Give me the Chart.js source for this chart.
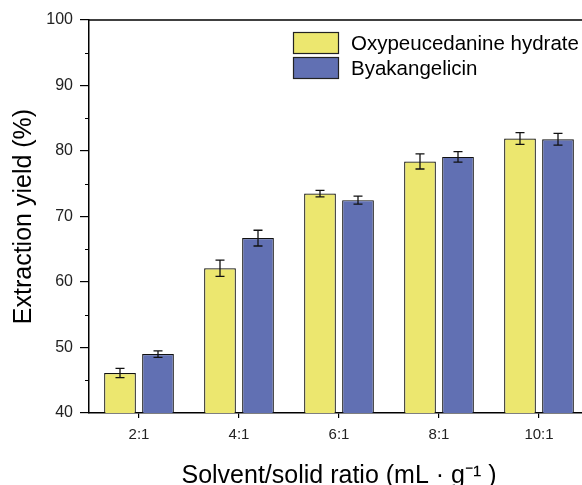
<!DOCTYPE html>
<html>
<head>
<meta charset="utf-8">
<script src="https://cdn.jsdelivr.net/npm/chart.js@4/dist/chart.umd.min.js"></script>
<style>
  html, body { margin: 0; padding: 0; background: #fff; overflow: hidden; width: 582px; height: 485px; }
  #wrap { width: 589px; height: 485px; }
</style>
</head>
<body>
<div id="wrap"><canvas id="c" width="589" height="485"></canvas></div>
<script>
const categories = ['2:1', '4:1', '6:1', '8:1', '10:1'];
const oxyValues = [46.1, 62.1, 73.5, 78.4, 81.9];
const oxyErrors = [0.7, 1.25, 0.5, 1.15, 0.9];
const byaValues = [49.0, 66.7, 72.5, 79.1, 81.8];
const byaErrors = [0.5, 1.2, 0.6, 0.8, 0.9];
const yTicks = [40, 50, 60, 70, 80, 90, 100];
const seriesNames = ['Oxypeucedanine hydrate', 'Byakangelicin'];

const FONT = 'Arial, "Liberation Sans", sans-serif';

const errorBarPlugin = {
  id: 'errorBars',
  afterDatasetsDraw(chart) {
    const ctx = chart.ctx;
    const y = chart.scales.y;
    ctx.save();
    ctx.strokeStyle = '#111';
    ctx.lineWidth = 1.3;
    chart.data.datasets.forEach((ds, i) => {
      const meta = chart.getDatasetMeta(i);
      meta.data.forEach((bar, j) => {
        const v = ds.data[j], e = ds.errors[j];
        const yt = y.getPixelForValue(v + e), yb = y.getPixelForValue(v - e);
        const x = bar.x, cap = 4.5;
        ctx.beginPath();
        ctx.moveTo(x, yt); ctx.lineTo(x, yb);
        ctx.moveTo(x - cap, yt); ctx.lineTo(x + cap, yt);
        ctx.moveTo(x - cap, yb); ctx.lineTo(x + cap, yb);
        ctx.stroke();
      });
    });
    ctx.restore();
  }
};

const framePlugin = {
  id: 'frame',
  afterDraw(chart) {
    const ctx = chart.ctx;
    const a = chart.chartArea;
    const y = chart.scales.y;
    ctx.save();
    ctx.strokeStyle = '#000';
    ctx.lineWidth = 1.5;
    ctx.beginPath();
    ctx.moveTo(a.left - 0.75, a.top); ctx.lineTo(a.right, a.top);
    ctx.stroke();
    // minor ticks
    ctx.lineWidth = 1.2;
    ctx.beginPath();
    for (let k = 0; k < yTicks.length - 1; k++) {
      const py = Math.round(y.getPixelForValue((yTicks[k] + yTicks[k + 1]) / 2)) + 0.5;
      ctx.moveTo(a.left - 4, py); ctx.lineTo(a.left, py);
    }
    ctx.stroke();
    // legend
    const colors = chart.data.datasets.map(d => d.backgroundColor);
    const bx = 293, bw = 46, bh = 22;
    const tops = [32, 57];
    ctx.font = '20.5px ' + FONT;
    ctx.textBaseline = 'middle';
    ctx.textAlign = 'left';
    seriesNames.forEach((name, i) => {
      ctx.fillStyle = colors[i];
      ctx.fillRect(bx, tops[i], bw, bh);
      ctx.strokeStyle = '#222';
      ctx.lineWidth = 1.2;
      ctx.strokeRect(bx + 0.5, tops[i] + 0.5, bw - 1, bh - 1);
      ctx.fillStyle = '#000';
      ctx.fillText(name, 351, tops[i] + bh / 2 + 1);
    });
    ctx.restore();
  }
};

new Chart(document.getElementById('c'), {
  type: 'bar',
  data: {
    labels: categories,
    datasets: [
      { label: seriesNames[0], data: oxyValues, errors: oxyErrors,
        backgroundColor: '#ECE76F', borderColor: '#111', borderWidth: 1.2 },
      { label: seriesNames[1], data: byaValues, errors: byaErrors,
        backgroundColor: '#6170B3', borderColor: '#111', borderWidth: 1.2 }
    ]
  },
  options: {
    responsive: false,
    animation: false,
    devicePixelRatio: 1,
    layout: { padding: { top: 20, right: 0, left: 0, bottom: 0 } },
    datasets: { bar: { categoryPercentage: 0.76, barPercentage: 0.835 } },
    plugins: { legend: { display: false }, tooltip: { enabled: false } },
    scales: {
      x: {
        afterFit(s) { s.height = 72; },
        grid: { display: true, drawOnChartArea: false, offset: false, tickLength: 5, color: '#000', lineWidth: 1.2 },
        border: { display: true, color: '#000', width: 1.5 },
        ticks: { color: '#222', font: { family: FONT, size: 15 }, padding: 8 },
        title: { display: true, text: 'Solvent/solid ratio (mL · g⁻¹ )', color: '#000',
          font: { family: FONT, size: 25 }, padding: { top: 0, bottom: -6 } }
      },
      y: {
        min: 40, max: 100,
        afterFit(s) { s.width = 89; },
        afterBuildTicks(s) { s.ticks = yTicks.map(v => ({ value: v })); },
        grid: { display: true, drawOnChartArea: false, tickLength: 9, color: '#000', lineWidth: 1.2 },
        border: { display: true, color: '#000', width: 1.5 },
        ticks: { color: '#222', font: { family: FONT, size: 16 }, padding: 7 },
        title: { display: true, text: 'Extraction yield (%)', color: '#000',
          font: { family: FONT, size: 25 }, padding: { top: 9, bottom: 0 } }
      }
    }
  },
  plugins: [errorBarPlugin, framePlugin]
});
</script>
</body>
</html>
